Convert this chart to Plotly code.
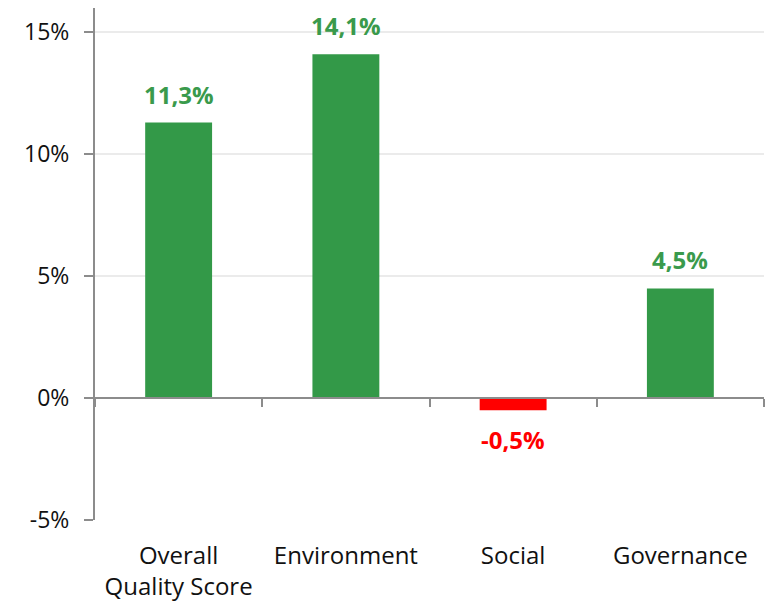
import plotly.graph_objects as go

categories = ["Overall<br>Quality Score", "Environment", "Social", "Governance"]
values = [11.3, 14.1, -0.5, 4.5]
y_ticks = [-5, 0, 5, 10, 15]
y_tick_labels = ["-5%", "0%", "5%", "10%", "15%"]

GREEN = "#339948"
RED = "#FF0000"
colors = [GREEN if v >= 0 else RED for v in values]
label_colors = ["#3A9A4C" if v >= 0 else RED for v in values]

y_min, y_max = -5, 16
FONT = "Open Sans"

fig = go.Figure()
fig.add_trace(go.Bar(
    x=categories, y=values, marker=dict(color=colors, line=dict(width=0)),
    width=0.4, hoverinfo="skip", xaxis="x", yaxis="y",
))
# invisible helper trace on the zero-line axis
fig.add_trace(go.Scatter(x=categories, y=[0] * len(categories), mode="markers",
                         marker=dict(opacity=0), xaxis="x2", yaxis="y",
                         showlegend=False, hoverinfo="skip"))

for c, v, lc in zip(categories, values, label_colors):
    fig.add_annotation(
        x=c, y=v, xref="x", yref="y",
        text=f"<b>{v:.1f}%</b>".replace(".", ","),
        showarrow=False,
        yanchor="bottom" if v >= 0 else "top",
        yshift=10 if v >= 0 else -11,
        font=dict(family=FONT, size=24, color=lc),
    )

zero_pos = (0 - y_min) / (y_max - y_min)

fig.update_layout(
    width=767, height=602,
    margin=dict(l=95, r=3, t=8, b=82),
    paper_bgcolor="white", plot_bgcolor="white",
    showlegend=False,
    bargap=0.6,
    xaxis=dict(
        type="category", categoryorder="array", categoryarray=categories,
        showline=False, ticks="", showgrid=False, zeroline=False,
        tickfont=dict(family=FONT, size=24, color="#111111"),
        ticklabelstandoff=19, automargin=False,
    ),
    xaxis2=dict(
        type="category", categoryorder="array", categoryarray=categories,
        overlaying="x", anchor="free", position=zero_pos, side="bottom",
        showline=True, linecolor="#8C8C8C", linewidth=2,
        ticks="outside", tickson="boundaries", ticklen=8, tickwidth=2,
        tickcolor="#8C8C8C", showticklabels=False, showgrid=False,
        zeroline=False, matches="x", automargin=False,
    ),
    yaxis=dict(
        range=[y_min, y_max], tickvals=y_ticks, ticktext=y_tick_labels,
        showline=True, linecolor="#8C8C8C", linewidth=2,
        ticks="outside", ticklen=9, tickwidth=2, tickcolor="#8C8C8C",
        showgrid=True, gridcolor="#EBEBEB", gridwidth=1.5,
        zeroline=False, automargin=False,
        tickfont=dict(family=FONT, size=23, color="#111111"),
        ticklabelstandoff=10,
    ),
)

fig.write_html("out.html")
